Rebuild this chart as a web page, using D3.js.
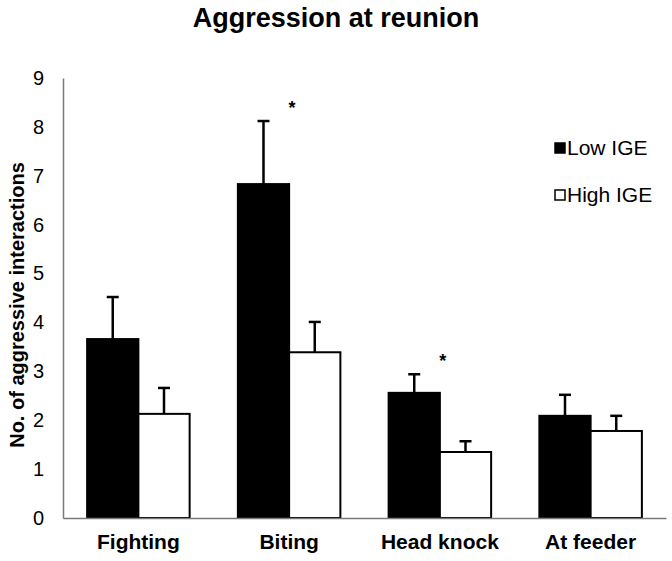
<!DOCTYPE html>
<html>
  <head>
    <meta charset="utf-8" />
    <style>
      body { margin: 0; background: #fff; }
      text { font-family: "Liberation Sans", Arial, sans-serif; fill: #000; }
    </style>
  </head>
  <body>
    <svg width="672" height="561"></svg>
    <script src="https://d3js.org/d3.v7.min.js"></script>
    <script>
      var categories = ["Fighting", "Biting", "Head knock", "At feeder"];
      var groups = ["Low IGE", "High IGE"];
      var lowMeans = [3.66, 6.83, 2.56, 2.09];
      var lowSE = [0.86, 1.29, 0.38, 0.43];
      var highMeans = [2.13, 3.39, 1.35, 1.78];
      var highSE = [0.53, 0.62, 0.22, 0.31];
      var significant = ["Biting", "Head knock"];
      var yTicks = [0, 1, 2, 3, 4, 5, 6, 7, 8, 9];

      var rows = [];
      categories.forEach(function (c, i) {
        rows.push({ cat: c, group: "Low IGE", mean: lowMeans[i], se: lowSE[i] });
        rows.push({ cat: c, group: "High IGE", mean: highMeans[i], se: highSE[i] });
      });

      var svg = d3.select("svg");
      var margin = { left: 63, right: 666, top: 78, bottom: 518 };

      var x = d3.scaleBand().domain(categories).range([margin.left, margin.right])
        .paddingInner(0.32).paddingOuter(0.16);
      var xg = d3.scaleBand().domain(groups).range([0, x.bandwidth()]);
      var y = d3.scaleLinear().domain([0, 9]).range([margin.bottom, margin.top]);
      var fill = { "Low IGE": "#000", "High IGE": "#fff" };

      function cx(d) {
        return x(d.cat) + xg(d.group) + xg.bandwidth() / 2;
      }

      // title
      svg.append("text")
        .attr("x", 336).attr("y", 27)
        .attr("text-anchor", "middle")
        .attr("font-size", 27).attr("font-weight", "bold")
        .text("Aggression at reunion");

      // bars
      svg.append("g").selectAll("rect")
        .data(rows).enter().append("rect")
        .attr("x", function (d) { return x(d.cat) + xg(d.group); })
        .attr("y", function (d) { return y(d.mean); })
        .attr("width", xg.bandwidth())
        .attr("height", function (d) { return y(0) - y(d.mean); })
        .attr("fill", function (d) { return fill[d.group]; })
        .attr("stroke", "#000").attr("stroke-width", 2);

      // error bars (upper only)
      var err = svg.append("g").attr("stroke", "#000").attr("stroke-width", 2.5);
      err.selectAll("line.v").data(rows).enter().append("line")
        .attr("class", "v")
        .attr("x1", cx).attr("x2", cx)
        .attr("y1", function (d) { return y(d.mean); })
        .attr("y2", function (d) { return y(d.mean + d.se); });
      err.selectAll("line.c").data(rows).enter().append("line")
        .attr("class", "c")
        .attr("x1", function (d) { return cx(d) - 6; })
        .attr("x2", function (d) { return cx(d) + 6; })
        .attr("y1", function (d) { return y(d.mean + d.se); })
        .attr("y2", function (d) { return y(d.mean + d.se); });

      // significance stars
      svg.append("g").selectAll("text")
        .data(rows.filter(function (d) { return d.group == "Low IGE" && significant.indexOf(d.cat) >= 0; }))
        .enter().append("text")
        .attr("x", function (d) { return x(d.cat) + x.bandwidth() / 2 + 3; })
        .attr("y", function (d) { return y(d.mean + d.se) - 7; })
        .attr("text-anchor", "middle")
        .attr("font-size", 18).attr("font-weight", "bold")
        .text("*");

      // axes
      var yAxis = svg.append("g")
        .attr("transform", "translate(" + margin.left + ",0)")
        .call(d3.axisLeft(y).tickValues(yTicks).tickSize(0).tickPadding(19));
      yAxis.select(".domain").attr("stroke", "#7a7a7a").attr("stroke-width", 1.5);
      yAxis.selectAll("text").attr("font-size", 20).attr("font-family", "Liberation Sans, Arial, sans-serif");

      var xAxis = svg.append("g")
        .attr("transform", "translate(0," + margin.bottom + ")")
        .call(d3.axisBottom(x).tickSize(0).tickPadding(16));
      xAxis.select(".domain").attr("stroke", "#7a7a7a").attr("stroke-width", 1.5);
      xAxis.selectAll("text").attr("font-size", 21).attr("font-weight", "bold")
        .attr("font-family", "Liberation Sans, Arial, sans-serif");

      svg.append("text")
        .attr("transform", "translate(24,305) rotate(-90)")
        .attr("text-anchor", "middle")
        .attr("font-size", 20).attr("font-weight", "bold")
        .text("No. of aggressive interactions");

      // legend
      var legend = svg.append("g").selectAll("g")
        .data(groups).enter().append("g")
        .attr("transform", function (d, i) { return "translate(555," + (148 + i * 47) + ")"; });
      legend.append("rect")
        .attr("x", 0).attr("y", -5).attr("width", 10).attr("height", 10)
        .attr("fill", function (d) { return fill[d]; })
        .attr("stroke", "#000").attr("stroke-width", 1.5);
      legend.append("text")
        .attr("x", 12).attr("y", 7)
        .attr("font-size", 21)
        .text(function (d) { return d; });
    </script>
  </body>
</html>
